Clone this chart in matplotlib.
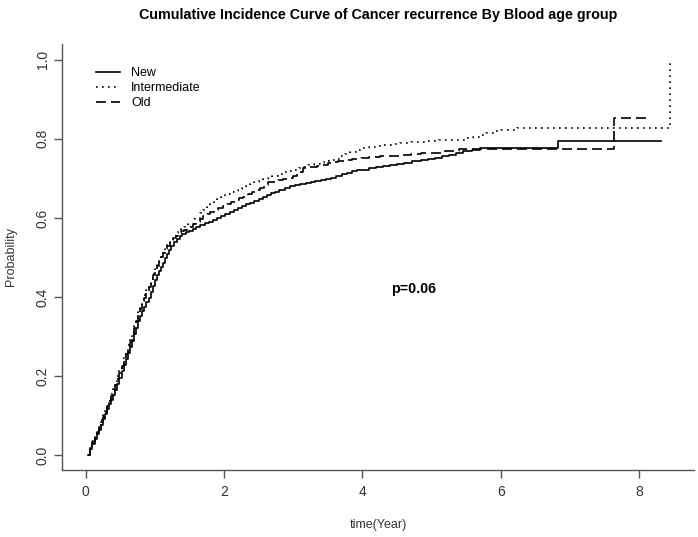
import matplotlib.pyplot as plt

plt.rcParams['font.family'] = ['Liberation Sans', 'DejaVu Sans']

# cumulative incidence (steps-post)
new_t = [0.04, 0.07, 0.10, 0.13, 0.16, 0.19, 0.22, 0.25, 0.28, 0.31, 0.34, 0.37, 0.40, 0.43,
         0.46, 0.49, 0.52, 0.55, 0.58, 0.61, 0.64, 0.67, 0.70, 0.73, 0.76, 0.79, 0.82, 0.85,
         0.88, 0.91, 0.94, 0.97, 1.00, 1.03, 1.06, 1.09, 1.12, 1.15, 1.18, 1.21, 1.24, 1.28,
         1.32, 1.36, 1.40, 1.45, 1.50, 1.55, 1.60, 1.66, 1.72, 1.78, 1.84, 1.90, 1.96, 2.02,
         2.08, 2.14, 2.20, 2.26, 2.32, 2.38, 2.44, 2.50, 2.56, 2.62, 2.68, 2.74, 2.80, 2.88,
         2.95, 3.02, 3.10, 3.18, 3.25, 3.32, 3.40, 3.48, 3.55, 3.62, 3.70, 3.78, 3.85, 3.92,
         4.00, 4.10, 4.20, 4.30, 4.40, 4.50, 4.60, 4.72, 4.85, 4.95, 5.05, 5.15, 5.25, 5.35,
         5.45, 5.58, 5.70, 6.82, 8.31]
new_p = [0.000, 0.015, 0.028, 0.040, 0.052, 0.064, 0.076, 0.090, 0.104, 0.116, 0.128, 0.140, 0.152, 0.165,
         0.180, 0.196, 0.212, 0.228, 0.243, 0.258, 0.272, 0.288, 0.305, 0.322, 0.340, 0.352, 0.364, 0.375,
         0.386, 0.398, 0.412, 0.428, 0.443, 0.455, 0.465, 0.476, 0.487, 0.498, 0.508, 0.518, 0.528, 0.538,
         0.546, 0.553, 0.558, 0.563, 0.568, 0.573, 0.577, 0.582, 0.586, 0.590, 0.595, 0.600, 0.605, 0.610,
         0.616, 0.621, 0.625, 0.629, 0.634, 0.638, 0.643, 0.648, 0.654, 0.657, 0.662, 0.666, 0.670, 0.675,
         0.680, 0.682, 0.685, 0.688, 0.692, 0.694, 0.696, 0.698, 0.700, 0.705, 0.710, 0.714, 0.718, 0.720,
         0.722, 0.725, 0.728, 0.731, 0.735, 0.737, 0.740, 0.743, 0.747, 0.749, 0.752, 0.756, 0.760, 0.764,
         0.768, 0.772, 0.776, 0.794, 0.794]

mid_t = [0.04, 0.07, 0.10, 0.13, 0.16, 0.19, 0.22, 0.25, 0.28, 0.31, 0.34, 0.37, 0.40, 0.43,
         0.46, 0.49, 0.52, 0.55, 0.58, 0.61, 0.64, 0.67, 0.70, 0.73, 0.76, 0.79, 0.82, 0.85,
         0.88, 0.91, 0.94, 0.97, 1.00, 1.03, 1.06, 1.09, 1.12, 1.15, 1.18, 1.22, 1.26, 1.30,
         1.34, 1.38, 1.42, 1.48, 1.56, 1.65, 1.70, 1.75, 1.80, 1.85, 1.90, 1.95, 2.02, 2.08,
         2.14, 2.20, 2.26, 2.32, 2.38, 2.44, 2.50, 2.56, 2.63, 2.70, 2.78, 2.85, 2.92, 3.00,
         3.08, 3.15, 3.22, 3.30, 3.38, 3.45, 3.52, 3.60, 3.68, 3.75, 3.82, 3.90, 4.00, 4.10,
         4.20, 4.30, 4.42, 4.55, 4.70, 4.90, 5.10, 5.40, 5.50, 5.60, 5.70, 5.79, 5.90, 6.00,
         6.23, 8.44]
mid_p = [0.000, 0.020, 0.036, 0.050, 0.063, 0.076, 0.089, 0.102, 0.115, 0.128, 0.141, 0.154, 0.168, 0.183,
         0.199, 0.215, 0.231, 0.247, 0.263, 0.279, 0.295, 0.312, 0.330, 0.347, 0.362, 0.376, 0.390, 0.404,
         0.418, 0.432, 0.445, 0.458, 0.470, 0.482, 0.494, 0.505, 0.515, 0.525, 0.534, 0.544, 0.553, 0.561,
         0.567, 0.572, 0.577, 0.585, 0.598, 0.612, 0.620, 0.628, 0.636, 0.643, 0.649, 0.654, 0.660, 0.665,
         0.669, 0.672, 0.676, 0.680, 0.685, 0.690, 0.694, 0.698, 0.702, 0.706, 0.711, 0.715, 0.718, 0.722,
         0.726, 0.730, 0.733, 0.737, 0.740, 0.743, 0.746, 0.750, 0.756, 0.762, 0.767, 0.772, 0.776, 0.780,
         0.783, 0.785, 0.788, 0.790, 0.792, 0.795, 0.796, 0.797, 0.801, 0.805, 0.810, 0.816, 0.820, 0.823,
         0.828, 1.0]

old_t = [0.04, 0.07, 0.10, 0.13, 0.16, 0.19, 0.22, 0.25, 0.28, 0.31, 0.34, 0.37, 0.40, 0.43,
         0.46, 0.49, 0.52, 0.55, 0.58, 0.61, 0.64, 0.67, 0.70, 0.73, 0.76, 0.79, 0.82, 0.85,
         0.88, 0.91, 0.94, 0.97, 1.00, 1.03, 1.06, 1.09, 1.12, 1.15, 1.18, 1.22, 1.26, 1.30,
         1.34, 1.38, 1.42, 1.46, 1.50, 1.55, 1.60, 1.65, 1.70, 1.75, 1.80, 1.86, 1.92, 1.98,
         2.04, 2.10, 2.16, 2.22, 2.28, 2.34, 2.40, 2.46, 2.52, 2.58, 2.64, 2.71, 2.78, 2.85,
         2.92, 2.99, 3.06, 3.14, 3.20, 3.28, 3.35, 3.42, 3.50, 3.58, 3.65, 3.75, 3.85, 3.98,
         4.10, 4.25, 4.40, 4.55, 4.70, 4.85, 5.00, 5.20, 5.40, 7.64, 8.17]
old_p = [0.000, 0.018, 0.032, 0.045, 0.058, 0.070, 0.083, 0.097, 0.110, 0.123, 0.136, 0.148, 0.161, 0.176,
         0.192, 0.208, 0.224, 0.240, 0.256, 0.271, 0.287, 0.304, 0.322, 0.340, 0.356, 0.370, 0.384, 0.397,
         0.412, 0.426, 0.440, 0.455, 0.468, 0.479, 0.490, 0.500, 0.510, 0.520, 0.529, 0.539, 0.548, 0.555,
         0.561, 0.566, 0.570, 0.574, 0.578, 0.584, 0.590, 0.598, 0.605, 0.610, 0.616, 0.620, 0.625, 0.630,
         0.635, 0.640, 0.645, 0.650, 0.654, 0.660, 0.665, 0.670, 0.675, 0.682, 0.690, 0.692, 0.695, 0.699,
         0.702, 0.706, 0.715, 0.727, 0.728, 0.730, 0.732, 0.734, 0.738, 0.742, 0.745, 0.747, 0.748, 0.751,
         0.754, 0.756, 0.757, 0.759, 0.762, 0.764, 0.765, 0.770, 0.775, 0.853, 0.853]

groups = ['New', 'Intermediate', 'Old']
x_ticks = [0, 2, 4, 6, 8]
y_ticks = [0.0, 0.2, 0.4, 0.6, 0.8, 1.0]

fig = plt.figure(figsize=(6.98, 5.37), dpi=100)
ax = fig.add_axes([62/698, 1 - 470/537, (694 - 62)/698, (470 - 44)/537])

lw = 1.2
ax.plot(new_t, new_p, drawstyle='steps-post', color='black', lw=lw, label=groups[0])
ax.plot(mid_t, mid_p, drawstyle='steps-post', color='black', lw=lw,
        linestyle=(0, (1, 2.6)), label=groups[1])
ax.plot(old_t, old_p, drawstyle='steps-post', color='black', lw=lw,
        linestyle=(0, (6, 3)), label=groups[2])

ax.set_xlim(-0.34, 8.79)
ax.set_ylim(-0.038, 1.04)
ax.set_xticks(x_ticks)
ax.set_yticks(y_ticks)
ax.set_xticklabels([str(v) for v in x_ticks])
ax.set_yticklabels(['%.1f' % v for v in y_ticks], rotation=90, va='center')

for side in ['top', 'right']:
    ax.spines[side].set_visible(False)
for side in ['left', 'bottom']:
    ax.spines[side].set_color('#555555')
    ax.spines[side].set_linewidth(1.0)
ax.tick_params(length=6, width=1.0, color='#555555', labelcolor='#333333', labelsize=10)
ax.tick_params(axis='x', pad=5)
ax.tick_params(axis='y', pad=3)

ax.set_xlabel('time(Year)', fontsize=9, color='#333333', labelpad=14)
ax.set_ylabel('Probability', fontsize=9, color='#333333', labelpad=13)
ax.set_title('Cumulative Incidence Curve of Cancer recurrence By Blood age group',
             fontsize=10.3, fontweight='bold', pad=18)

ax.text(4.74, 0.42, 'p=0.06', fontsize=10.3, fontweight='bold', ha='center', va='center')

ax.legend(loc='upper left', bbox_to_anchor=(96/698, 1 - 67/537), bbox_transform=fig.transFigure,
          frameon=False, fontsize=9, handlelength=1.9, handletextpad=0.9,
          labelspacing=0.25, borderpad=0, borderaxespad=0)

fig.savefig('out.png', dpi=100)
